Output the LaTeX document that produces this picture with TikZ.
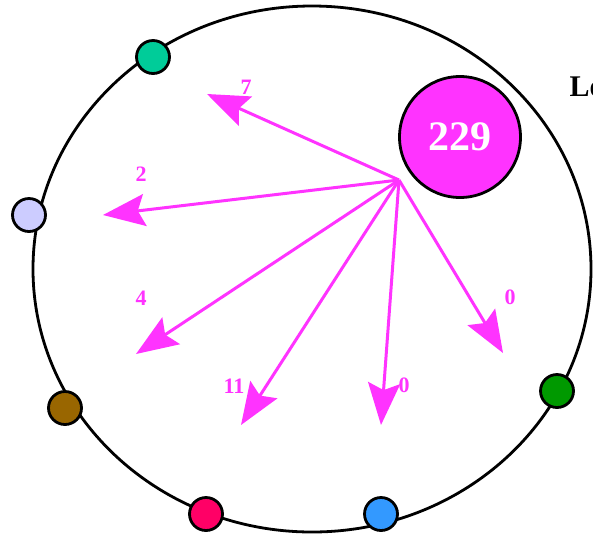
\documentclass[tikz,border=0pt]{standalone}
\usepackage{fontspec}
\setmainfont{Liberation Serif}
\usepackage{tikz}
\usetikzlibrary{arrows.meta}
\definecolor{flow}{rgb}{1,0.2,1}
\definecolor{teal}{rgb}{0,0.8,0.6}
\definecolor{lavender}{rgb}{0.8,0.8,1}
\definecolor{brown}{rgb}{0.6,0.4,0}
\definecolor{crimson}{rgb}{1,0,0.4}
\definecolor{sky}{rgb}{0.2,0.6,1}
\definecolor{leaf}{rgb}{0,0.6,0}
\tikzset{
  peer/.style={circle, draw=black, line width=2.8pt, minimum size=33pt, inner sep=0pt},
  move/.style={flow, line width=3pt, -{Stealth[length=42pt, width=32pt, inset=7pt]}},
  count/.style={flow, font=\bfseries\fontsize{22}{22}\selectfont}
}

\begin{document}
\begin{tikzpicture}[x=1pt,y=-1pt]
        \useasboundingbox (0,0) rectangle (593,542);
        \draw[black,line width=2.8pt] (312,269) ellipse[x radius=279, y radius=263];
        \node[peer, fill=teal] (p1) at (153,57) {};
        \node[peer, fill=lavender] (p2) at (29,215) {};
        \node[peer, fill=brown] (p3) at (65,408) {};
        \node[peer, fill=crimson] (p4) at (206,514) {};
        \node[peer, fill=sky] (p5) at (381,514) {};
        \node[peer, fill=leaf] (p6) at (557,391) {};
        \node[circle, draw=black, line width=2.8pt, fill=flow, minimum size=121pt, inner sep=0pt,
              text=white, font=\bfseries\fontsize{42}{42}\selectfont] (load) at (460,137) {229};
        \node[anchor=west, font=\bfseries\fontsize{30}{30}\selectfont] (title) at (566,87) {Lo};
        % moves out of the hub
        \coordinate (hub) at (399,180);
        \coordinate (e1) at (207,94);
        \coordinate (e2) at (103,215);
        \coordinate (e3) at (136,354);
        \coordinate (e4) at (241,425);
        \coordinate (e5) at (381,425);
        \coordinate (e6) at (503,353);
        \foreach \e in {1,...,6} {\draw[move] (hub) -- (e\e);}
        \node[count] (c1) at (246,87) {7};
        \node[count] (c2) at (141,174) {2};
        \node[count] (c3) at (141,298) {4};
        \node[count] (c4) at (234,386) {11};
        \node[count] (c5) at (404,385) {0};
        \node[count] (c6) at (510,297) {0};
    \end{tikzpicture}
\end{document}
